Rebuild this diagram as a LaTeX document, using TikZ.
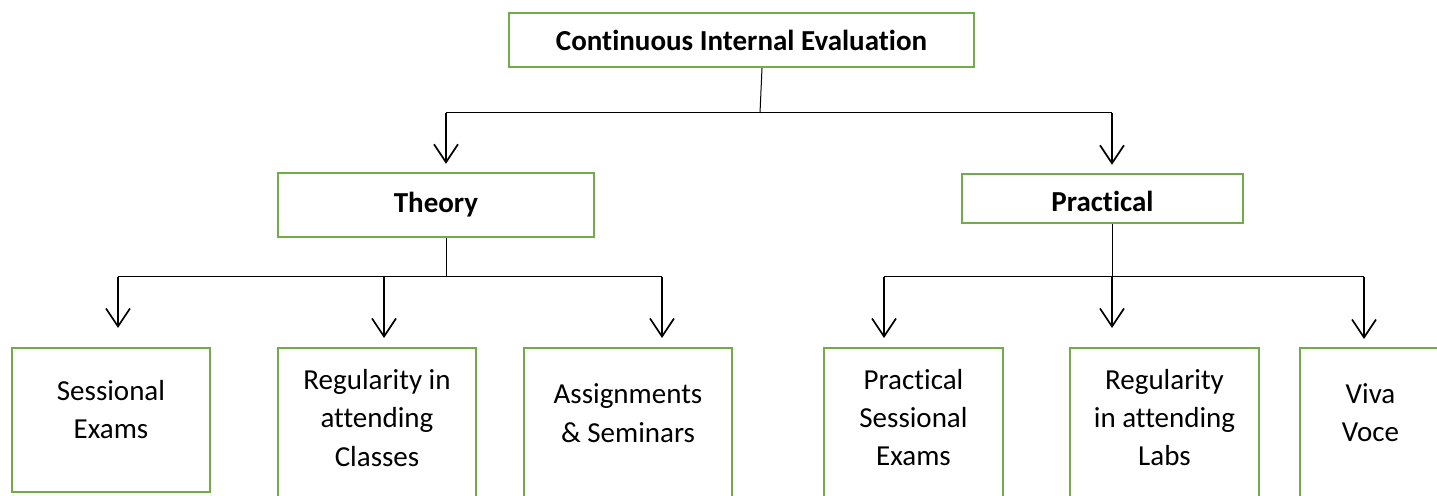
\documentclass[tikz,border=0pt]{standalone}
\usepackage{fontspec}
\setmainfont{Carlito}[RawFeature={-liga;-clig;-dlig;-calt;-rlig;-hlig}]
\usetikzlibrary{arrows.meta}
\definecolor{cgreen}{HTML}{70AD47}
\newcommand\leaftext[4]{\parbox[c][#2][t]{#1}{\centering\rule{0pt}{#3}#4}}
\begin{document}
\begin{tikzpicture}[x=0.5pt,y=-0.5pt,
  box/.style={draw=cgreen,line width=1.2pt,inner sep=0pt,font=\fontsize{14.5}{19.15}\selectfont},
  head/.style={box,font=\fontsize{14.5}{19.15}\selectfont\bfseries,text depth=0pt},
  leaf/.style={box,anchor=north},
  bar/.style={line width=0.5pt},
  arr/.style={line width=0.85pt,-{Straight Barb[length=9pt,width=12pt]}}]
\useasboundingbox (0,0) rectangle (1437,496);
\clip (0,0) rectangle (1437,496);
% header nodes
\node[head,minimum width=232.5pt,minimum height=27pt,text height=11pt] (cie) at (741.5,40) {Continuous Internal Evaluation};
\node[head,minimum width=158pt,minimum height=32pt,text height=8pt] (theory) at (436,205) {Theory};
\node[head,minimum width=140.5pt,minimum height=24.5pt,text height=13.5pt] (practical) at (1102.5,198.5) {Practical};
% leaf nodes
\node[leaf] (ses) at (111,347) {\leaftext{99pt}{72pt}{26pt}{Sessional\\Exams}};
\node[leaf] (regc) at (377,347) {\leaftext{99pt}{96.5pt}{20.65pt}{Regularity in\\attending\\Classes}};
\node[leaf] (asg) at (628,347) {\leaftext{104pt}{96.5pt}{27.85pt}{Assignments\\\& Seminars}};
\node[leaf] (pses) at (913.5,347) {\leaftext{89.5pt}{96.5pt}{20.5pt}{Practical\\Sessional\\Exams}};
\node[leaf] (regl) at (1164.5,347) {\leaftext{94.5pt}{96.5pt}{20.5pt}{Regularity\\in attending\\Labs}};
\node[leaf] (viva) at (1370.5,347) {\leaftext{70.5pt}{96.5pt}{27.5pt}{Viva\\Voce}};
% top level connectors
\coordinate (j0) at (760,113);
\coordinate (tL) at (446,113);
\coordinate (tR) at (1112,113);
\draw[bar] ([xshift=10.25pt]cie.south) -- (j0);
\draw[bar] (tL) -- (tR);
\draw[arr] (tL) -- ([yshift=4pt]tL |- theory.north);
\draw[arr] (tR) -- ([yshift=4pt]tR |- practical.north);
% theory connectors
\coordinate (j1) at (446,277);
\coordinate (a1) at (118,277);
\coordinate (a2) at (384,277);
\coordinate (a3) at (662,277);
\draw[bar] (j1 |- theory.south) -- (j1);
\draw[bar] (a1) -- (a3);
\draw[arr] (a1) -- ([yshift=9.5pt]a1 |- ses.north);
\draw[arr] (a2) -- ([yshift=4.5pt]a2 |- regc.north);
\draw[arr] (a3) -- ([yshift=4.5pt]a3 |- asg.north);
% practical connectors
\coordinate (j2) at (1112,277);
\coordinate (b1) at (884,277);
\coordinate (b3) at (1364,277);
\draw[bar] (j2 |- practical.south) -- (j2);
\draw[bar] (b1) -- (b3);
\draw[arr] (b1) -- ([yshift=4.5pt]b1 |- pses.north);
\draw[arr] (j2) -- ([yshift=9.5pt]j2 |- regl.north);
\draw[arr] (b3) -- ([yshift=4pt]b3 |- viva.north);
\end{tikzpicture}
\end{document}
